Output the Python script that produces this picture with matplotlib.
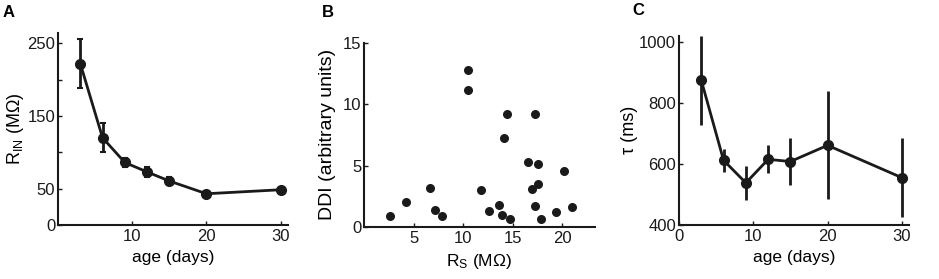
import matplotlib
matplotlib.use('Agg')
import matplotlib.pyplot as plt
import numpy as np

plt.rcParams['font.family'] = ['Liberation Sans', 'DejaVu Sans']
plt.rcParams['mathtext.default'] = 'regular'

# panel A: input resistance vs age
age = [3, 6, 9, 12, 15, 20, 30]
rin = [222, 120, 86, 73, 60.5, 43, 48.5]
rin_err = [34, 20, 6, 7, 6, 2.5, 2.5]

# panel B: DDI vs series resistance
rs = [2.67, 4.26, 6.62, 7.12, 7.9, 10.53, 10.53, 11.81, 12.6, 13.66, 13.93, 14.17,
      14.43, 14.7, 16.52, 17.0, 17.3, 17.3, 17.57, 17.57, 17.84, 19.39, 20.16, 20.97]
ddi = [0.93, 2.04, 3.19, 1.36, 0.87, 12.77, 11.11, 3.05, 1.28, 1.77, 1.0, 7.27,
       9.2, 0.65, 5.28, 3.13, 1.74, 9.17, 5.15, 3.48, 0.63, 1.2, 4.57, 1.66]

# panel C: membrane time constant vs age
tau = [874, 612, 538, 615, 608, 661, 555]
tau_err = [145, 38, 56, 46, 78, 177, 130]

a_yticks = [0, 50, 100, 150, 200, 250]
a_ylabels = ['0', '50', '', '150', '', '250']

fig = plt.figure(figsize=(9.39, 2.79), dpi=100)
axA = fig.add_axes([0.0618, 0.1935, 0.245, 0.688])
axB = fig.add_axes([0.3876, 0.1864, 0.246, 0.6606])
axC = fig.add_axes([0.7231, 0.1935, 0.2453, 0.6785])

col = '#1a1a1a'
axA.errorbar(age, rin, yerr=rin_err, color=col, lw=2, marker='o', ms=7,
             elinewidth=2, capsize=2, capthick=1.5)
axA.set_xlim(0, 31)
axA.set_ylim(0, 264)
axA.set_xticks([10, 20, 30])
axA.set_yticks(a_yticks)
axA.set_yticklabels(a_ylabels)
axA.set_xlabel('age (days)', fontsize=12.5, labelpad=4)
axA.set_ylabel('R$_{IN}$ (MΩ)', fontsize=13, labelpad=1)

axB.scatter(rs, ddi, s=30, color=col, zorder=3)
axB.set_xlim(0, 23.3)
axB.set_ylim(0, 15)
axB.set_xticks([5, 10, 15, 20])
axB.set_yticks([0, 5, 10, 15])
axB.set_xlabel('R$_{S}$ (MΩ)', fontsize=12.5, labelpad=4)
axB.set_ylabel('DDI (arbitrary units)', fontsize=14, labelpad=5)

axC.errorbar(age, tau, yerr=tau_err, color=col, lw=2, marker='o', ms=7,
             elinewidth=2, capsize=0)
axC.set_xlim(0, 31)
axC.set_ylim(400, 1020)
axC.set_xticks([0, 10, 20, 30])
axC.set_yticks([400, 600, 800, 1000])
axC.set_xlabel('age (days)', fontsize=12.5, labelpad=4)
axC.set_ylabel('τ (ms)', fontsize=13, labelpad=1)

for ax in (axA, axB, axC):
    for s in ('top', 'right'):
        ax.spines[s].set_visible(False)
    for s in ('left', 'bottom'):
        ax.spines[s].set_linewidth(1.5)
        ax.spines[s].set_color(col)
    ax.tick_params(direction='in', length=3, width=1, labelsize=12, pad=2, colors=col)
    ax.tick_params(axis='x', pad=3)

fig.text(0.003, 0.955, 'A', fontsize=12, fontweight='bold', va='center')
fig.text(0.343, 0.955, 'B', fontsize=12, fontweight='bold', va='center')
fig.text(0.673, 0.962, 'C', fontsize=12, fontweight='bold', va='center')

fig.savefig('out.png', dpi=100)
